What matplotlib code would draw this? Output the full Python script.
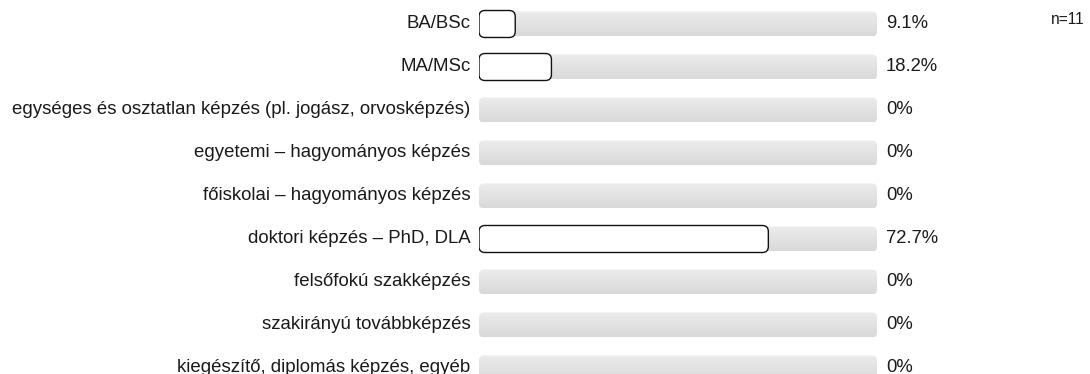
"""Horizontal percentage bars (survey answer shares), n=11."""

import matplotlib

matplotlib.use("Agg")
import matplotlib.pyplot as plt
import numpy as np
from matplotlib.patches import FancyBboxPatch

plt.rcParams["font.family"] = ["Liberation Sans", "DejaVu Sans"]

CATEGORIES = [
    "BA/BSc",
    "MA/MSc",
    "egységes és osztatlan képzés (pl. jogász, orvosképzés)",
    "egyetemi – hagyományos képzés",
    "főiskolai – hagyományos képzés",
    "doktori képzés – PhD, DLA",
    "felsőfokú szakképzés",
    "szakirányú továbbképzés",
    "kiegészítő, diplomás képzés, egyéb",
]
PERCENTS = [9.1, 18.2, 0, 0, 0, 72.7, 0, 0, 0]
VALUE_LABELS = ["9.1%", "18.2%", "0%", "0%", "0%", "72.7%", "0%", "0%", "0%"]
N_LABEL = "n=11"

W, H = 1090, 374
BAR_LEFT, BAR_RIGHT = 479, 877  # pixel extent of the 0..100 % track
ROW0, ROW_STEP = 24, 43  # pixel centre of first row, row spacing

fig = plt.figure(figsize=(W / 100, H / 100), dpi=100)
fig.patch.set_facecolor("white")
ax = fig.add_axes([BAR_LEFT / W, 0, (BAR_RIGHT - BAR_LEFT) / W, 1])
ax.set_xlim(0, 100)
ax.set_ylim((H - ROW0) / ROW_STEP, -ROW0 / ROW_STEP)
ax.axis("off")

px_x = (BAR_RIGHT - BAR_LEFT) / 100  # pixels per x unit
px_y = ROW_STEP  # pixels per y unit
aspect = px_x / px_y

track_h = 25 / px_y
box_h = 27 / px_y
grad = np.linspace(0, 1, 64).reshape(-1, 1)
gray_cmap = matplotlib.colors.LinearSegmentedColormap.from_list("g", ["#ececec", "#d9d9d9"])

for i, (label, pct, vlab) in enumerate(zip(CATEGORIES, PERCENTS, VALUE_LABELS)):
    track = FancyBboxPatch(
        (0, i - track_h / 2), 100, track_h,
        boxstyle=f"round,pad=0,rounding_size={5 / px_x}",
        mutation_aspect=aspect, fc="none", ec="none", zorder=1,
    )
    ax.add_patch(track)
    im = ax.imshow(
        grad, extent=(0, 100, i + track_h / 2, i - track_h / 2),
        cmap=gray_cmap, aspect="auto", interpolation="bilinear", zorder=1,
    )
    im.set_clip_path(track)

    if pct > 0:
        ax.add_patch(FancyBboxPatch(
            (0, i - box_h / 2), pct, box_h,
            boxstyle=f"round,pad=0,rounding_size={6 / px_x}",
            mutation_aspect=aspect, fc="white", ec="#111111", lw=1.0, zorder=3,
        ))

    ax.annotate(label, (0, i), xytext=(-6, 0), textcoords="offset points",
                ha="right", va="center", fontsize=13.4, color="#1a1a1a",
                annotation_clip=False)
    ax.annotate(vlab, (100, i), xytext=(6.5, 0), textcoords="offset points",
                ha="left", va="center", fontsize=13.3, color="#1a1a1a",
                annotation_clip=False)

fig.text(1085 / W, 1 - 19 / H, N_LABEL, ha="right", va="center", fontsize=11.2, color="#1a1a1a")

ax.set_ylim((H - ROW0) / ROW_STEP, -ROW0 / ROW_STEP)
ax.set_xlim(0, 100)
fig.savefig("out.png", dpi=100, facecolor="white")
